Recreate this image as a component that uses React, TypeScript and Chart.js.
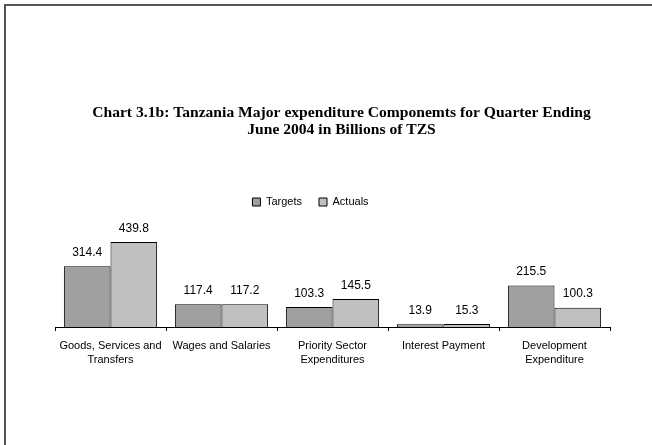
import React, { useEffect, useRef } from "react";
import { Chart, registerables } from "chart.js";

Chart.register(...registerables);

const categories: string[][] = [
  ["Goods, Services and", "Transfers"],
  ["Wages and Salaries"],
  ["Priority Sector", "Expenditures"],
  ["Interest Payment"],
  ["Development", "Expenditure"],
];
const targets: number[] = [314.4, 117.4, 103.3, 13.9, 215.5];
const actuals: number[] = [439.8, 117.2, 145.5, 15.3, 100.3];
const titleLines: string[] = [
  "Chart 3.1b: Tanzania Major expenditure Componemts for Quarter Ending",
  "June 2004 in Billions of TZS",
];

const valueLabels = {
  id: "valueLabels",
  afterDatasetsDraw(chart: any) {
    const ctx = chart.ctx;
    ctx.save();
    ctx.font = "12px 'Liberation Sans', Arial, sans-serif";
    ctx.fillStyle = "#000";
    ctx.textAlign = "center";
    ctx.textBaseline = "middle";
    chart.data.datasets.forEach((ds: any, i: number) => {
      const meta = chart.getDatasetMeta(i);
      meta.data.forEach((bar: any, j: number) => {
        ctx.fillText(Number(ds.data[j]).toFixed(1), bar.x, bar.y - 13.5);
      });
    });
    ctx.restore();
  },
};

// Shift title and legend horizontally as in the reference layout
const shiftBoxes = {
  id: "shiftBoxes",
  afterLayout(chart: any) {
    if (chart.legend) {
      chart.legend.left -= 22;
      chart.legend.right -= 22;
    }
    if (chart.titleBlock) {
      chart.titleBlock.left += 9;
      chart.titleBlock.right += 9;
    }
  },
};

export default function App() {
  const ref = useRef<HTMLCanvasElement>(null);
  useEffect(() => {
    if (!ref.current) return;
    const chart = new Chart(ref.current, {
      type: "bar",
      data: {
        labels: categories,
        datasets: [
          {
            label: "Targets",
            data: targets,
            backgroundColor: "#a0a0a0",
            borderColor: "#000",
            borderWidth: 1,
            categoryPercentage: 0.84,
            barPercentage: 1,
          },
          {
            label: "Actuals",
            data: actuals,
            backgroundColor: "#c0c0c0",
            borderColor: "#000",
            borderWidth: 1,
            categoryPercentage: 0.84,
            barPercentage: 1,
          },
        ],
      },
      options: {
        responsive: false,
        animation: false,
        layout: { padding: { top: 104, left: 55, right: 42, bottom: 70 } },
        plugins: {
          title: {
            display: true,
            text: titleLines,
            color: "#000",
            font: { family: "'Liberation Serif', 'Times New Roman', serif", size: 15.6, weight: "bold", lineHeight: 17.5 / 15.6 },
            padding: { top: 0, bottom: 40.5 },
          },
          legend: {
            display: true,
            position: "top",
            labels: {
              boxWidth: 8,
              boxHeight: 8,
              padding: 17,
              color: "#000",
              font: { family: "'Liberation Sans', Arial, sans-serif", size: 11 },
            },
          },
          tooltip: { enabled: false },
        },
        scales: {
          x: {
            grid: {
              display: true,
              drawOnChartArea: false,
              drawTicks: true,
              tickLength: 4,
              color: "#000",
            },
            border: { display: true, color: "#000", width: 1 },
            ticks: {
              color: "#000",
              padding: 8,
              maxRotation: 0,
              autoSkip: false,
              font: { family: "'Liberation Sans', Arial, sans-serif", size: 11, lineHeight: 14 / 11 },
            },
          },
          y: {
            display: false,
            min: 0,
            max: 567,
          },
        },
      },
      plugins: [valueLabels, shiftBoxes],
    });
    return () => chart.destroy();
  }, []);
  return (
    <div style={{ position: "fixed", left: 0, top: 0, width: 652, height: 445, background: "#fff", overflow: "hidden" }}>
      <div
        style={{
          position: "absolute",
          left: 4,
          top: 4,
          width: 700,
          height: 500,
          borderLeft: "2px solid #555",
          borderTop: "2px solid #555",
        }}
      />
      <canvas ref={ref} width={652} height={445} style={{ position: "absolute", left: 0, top: 0, display: "block" }} />
    </div>
  );
}
